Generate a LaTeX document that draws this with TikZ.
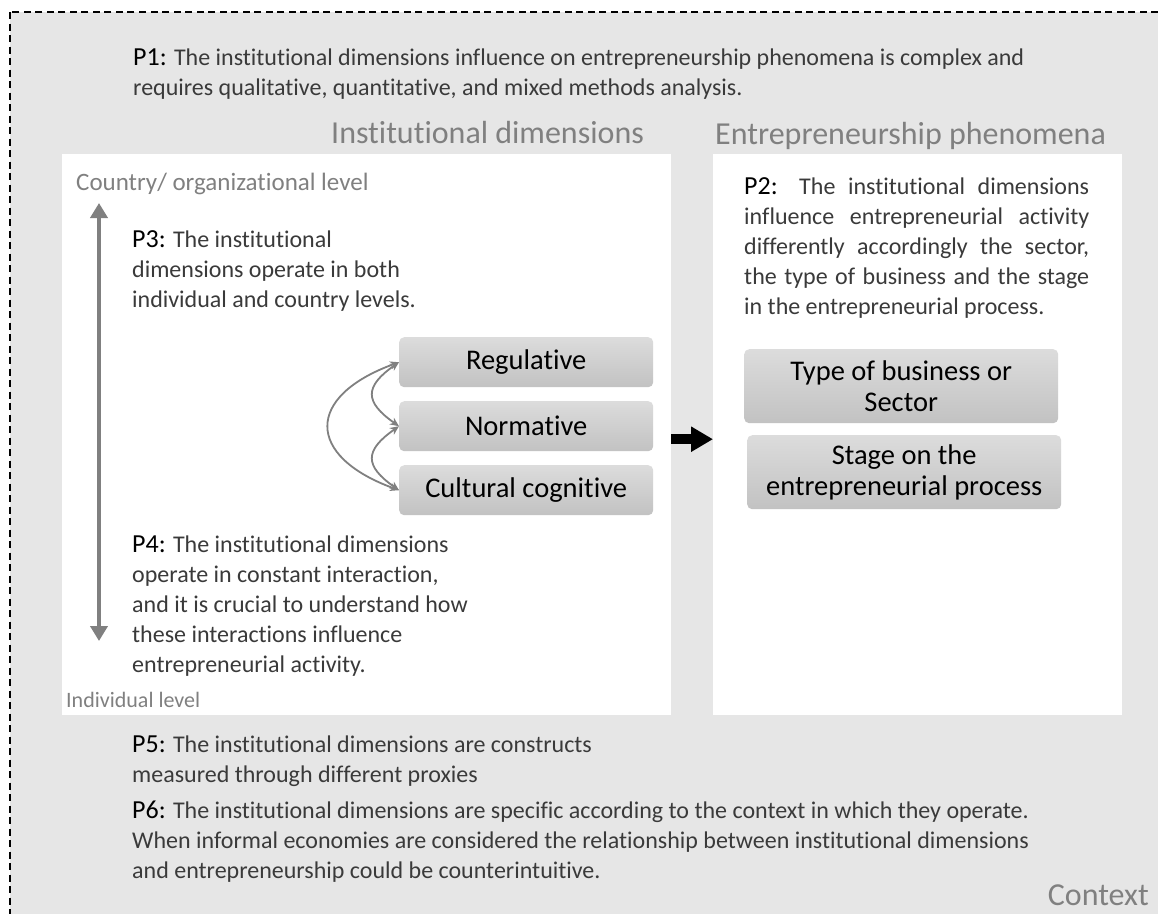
\documentclass[tikz,border=0pt]{standalone}
\usepackage{fontspec}
\setmainfont{Carlito}[Ligatures=NoCommon]
\usetikzlibrary{arrows.meta,calc}

\definecolor{ctxgray}{HTML}{E6E6E6}
\definecolor{bodytext}{HTML}{3A3A3A}
\definecolor{labelgray}{HTML}{808080}
\definecolor{boxtop}{HTML}{DCDCDC}
\definecolor{boxbot}{HTML}{C2C2C2}

\newcommand{\bodysize}{\fontsize{24}{30}\selectfont}
\newcommand{\plabel}[1]{\leavevmode{\fontsize{26}{30}\selectfont\color{black}#1:}}

\tikzset{
  para/.style={anchor=base west, inner sep=0pt, text=bodytext, font=\bodysize},
  title/.style={anchor=base west, inner sep=0pt, text=labelgray, font=\fontsize{32}{38}\selectfont},
  levellabel/.style={anchor=base west, inner sep=0pt, text=labelgray},
  panel/.style={fill=white, draw=none, inner sep=0pt, anchor=north west, minimum height=561pt},
  dimbox/.style={rounded corners=5pt, top color=boxtop, bottom color=boxbot, draw=none,
    anchor=north west, inner sep=0pt, text=black, align=center,
    font=\fontsize{28.5}{31}\selectfont},
  levelarrow/.style={draw=labelgray, line width=4.5pt,
    {Triangle[length=15pt,width=17pt]}-{Triangle[length=15pt,width=17pt]}},
  cyclearrow/.style={draw=labelgray, line width=1.8pt,
    {Stealth[length=9pt,width=8pt]}-{Stealth[length=9pt,width=8pt]}},
  bigarrow/.style={draw=black, line width=10pt, -{Triangle[length=22pt,width=24pt]}},
}

\begin{document}
\begin{tikzpicture}[x=1pt,y=-1pt]
  \useasboundingbox (0,0) rectangle (1158,913);
  \clip (0,0) rectangle (1158,913);
  \fill[white] (0,0) rectangle (1158,913);

  % context frame, open to the right and bottom
  \draw[fill=ctxgray, line width=1.5pt, dash pattern=on 7pt off 4.5pt]
    (10,12) rectangle (1200,960);

  % P1 across the top
  \node[para] (p1) at (133,65) {\parbox[t]{1000pt}{\plabel{P1} The institutional dimensions influence on entrepreneurship phenomena is complex and\\
    requires qualitative, quantitative, and mixed methods analysis.}};

  % panel titles
  \node[title] (insttitle) at (331,143) {Institutional dimensions};
  \node[title] (entrtitle) at (715,144) {Entrepreneurship phenomena};

  % white panels
  \node[panel, minimum width=609pt] (leftpanel) at (62,154) {};
  \node[panel, minimum width=409pt] (rightpanel) at (713,154) {};

  % level axis
  \node[levellabel, font=\fontsize{25}{30}\selectfont] (countrylvl) at (76,190) {Country/ organizational level};
  \node[levellabel, font=\fontsize{22}{26}\selectfont] (indivlvl) at (66,707) {Individual level};
  \coordinate (lvltop) at (99,203);
  \coordinate (lvlbot) at (99,641);
  \draw[levelarrow] (lvlbot) -- (lvltop);

  % P3 and P4
  \node[para] (p3) at (132,247) {\parbox[t]{340pt}{\plabel{P3} The institutional\\
    dimensions operate in both\\
    individual and country levels.}};
  \node[para] (p4) at (132,552) {\parbox[t]{420pt}{\plabel{P4} The institutional dimensions\\
    operate in constant interaction,\\
    and it is crucial to understand how\\
    these interactions influence\\
    entrepreneurial activity.}};

  % the three institutional dimensions
  \node[dimbox, minimum width=254pt, minimum height=50pt] (reg) at (399,337) {Regulative};
  \node[dimbox, minimum width=254pt, minimum height=50pt] (norm) at (399,401) {Normative};
  \node[dimbox, minimum width=254pt, minimum height=50pt] (cult) at (399,465) {Cultural cognitive};

  % interactions between the dimensions
  \draw[cyclearrow] (reg.west) to[out=215,in=145,looseness=1.7] (norm.west);
  \draw[cyclearrow] (norm.west) to[out=215,in=145,looseness=1.7] (cult.west);
  \draw[cyclearrow] (reg.west) to[out=200,in=160,looseness=2.0] (cult.west);

  % influence on entrepreneurship
  \draw[bigarrow] ([yshift=-4.5pt]leftpanel.east) -- ([yshift=-4.5pt]rightpanel.west);

  % P2
  \node[para] (p2) at (744,194) {\parbox[t]{345pt}{\plabel{P2} The institutional dimensions\linebreak
    influence entrepreneurial activity\linebreak
    differently accordingly the sector,\linebreak
    the type of business and the stage\linebreak
    in the entrepreneurial process.}};

  % entrepreneurship phenomena boxes
  \node[dimbox, minimum width=314pt, minimum height=74pt] (business) at (744,349)
    {Type of business or\\Sector};
  \node[dimbox, minimum width=314pt, minimum height=74pt] (stage) at (747,435)
    {Stage on the\\entrepreneurial process};

  % P5 and P6
  \node[para] (p5) at (132,752) {\parbox[t]{900pt}{\plabel{P5} The institutional dimensions are constructs\\
    measured through different proxies}};
  \node[para] (p6) at (132,818) {\parbox[t]{1000pt}{\plabel{P6} The institutional dimensions are specific according to the context in which they operate.\\
    When informal economies are considered the relationship between institutional dimensions\\
    and entrepreneurship could be counterintuitive.}};

  \node[title, anchor=base east] (context) at (1149,905) {Context};
\end{tikzpicture}
\end{document}
